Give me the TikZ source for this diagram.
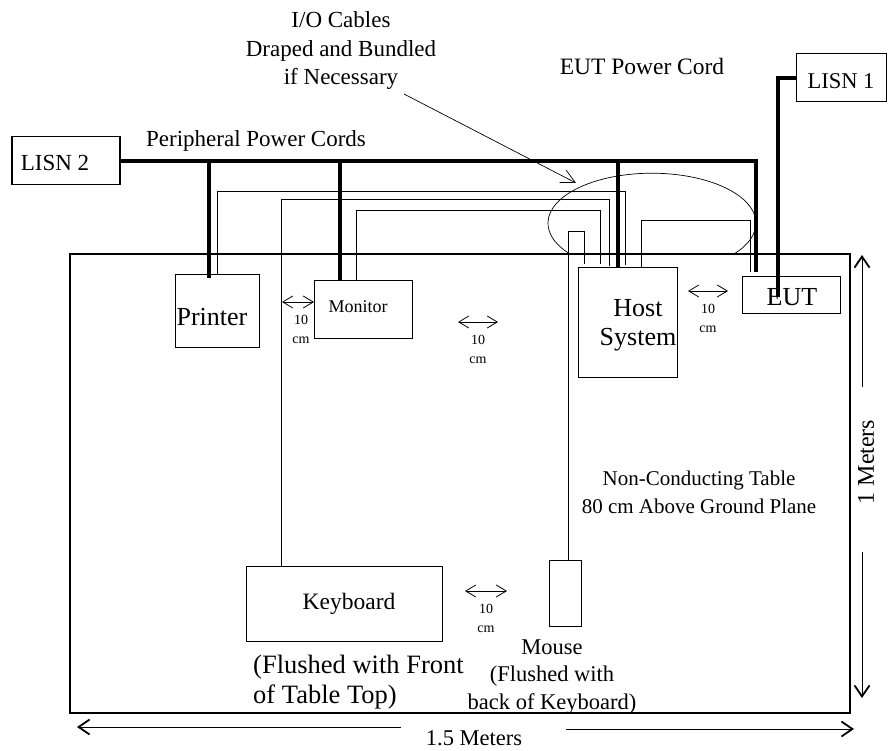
\documentclass[tikz,border=0pt]{standalone}
\usepackage{fontspec}
\setmainfont{Liberation Serif}
\usetikzlibrary{arrows.meta}
\tikzset{
  box/.style={draw,line width=0.8pt,inner sep=0pt,anchor=north west},
  cable/.style={line width=0.8pt},
  cord/.style={line width=3.2pt},
  dim/.style={line width=0.8pt,{Straight Barb[length=10pt,width=12pt]}-{Straight Barb[length=10pt,width=12pt]}},
  meter/.style={line width=1pt,-{Straight Barb[length=11pt,width=15pt,line width=1.8pt]}},
  lbl/.style={inner sep=0pt,align=center},
  small/.style={font=\fontsize{14}{19}\selectfont,inner sep=0pt,align=center},
}
\begin{document}
\begin{tikzpicture}[x=1pt,y=-1pt]
\useasboundingbox (0,0) rectangle (894,751);

% Table
\draw[line width=1.8pt] (70,254) rectangle (850,713);

% Boxes
\node[box,line width=1.5pt,minimum width=108pt,minimum height=48pt] (lisntwo) at (11,136) {};
\node[box,line width=1.2pt,minimum width=90pt,minimum height=48pt] (lisnone) at (796,53) {};
\node[box,minimum width=84pt,minimum height=73pt] (printer) at (175,274) {};
\node[box,minimum width=98pt,minimum height=58pt] (monitor) at (314,280) {};
\node[box,minimum width=99pt,minimum height=110pt] (host) at (578,267) {};
\node[box,minimum width=98pt,minimum height=37pt] (eut) at (742,276) {};
\node[box,minimum width=196pt,minimum height=75pt] (keyboard) at (246,566) {};
\node[box,minimum width=32pt,minimum height=66pt] (mouse) at (549,560) {};

% Bundle
\draw[line width=0.7pt] (570,254) arc[start angle=142,end angle=398,x radius=104,y radius=50];
\coordinate (iotail) at (404,94);
\coordinate (iotip) at (576,183);
\draw[line width=0.7pt,-{Straight Barb[length=14pt,width=14pt]}] (iotail) -- (iotip);

% Signal cables
\draw[cable] (217,274) -- (217,191) -- (625,191) -- (625,265);
\draw[cable] (281,566) -- (281,199) -- (609,199) -- (609,266);
\draw[cable] (356,280) -- (356,210) -- (600,210) -- (600,264);
\draw[cable] (568,560) -- (568,231) -- (584,231) -- (584,264);
\draw[cable] (641,267) -- (641,220) -- (750,220) -- (750,272);

% Power cords
\draw[cord] (119,161) -- (756,161) -- (756,272);
\draw[cord] (209,161) -- (209,278);
\draw[cord] (340,161) -- (340,281);
\draw[cord] (618,161) -- (618,268);
\draw[cord] (796,78) -- (778,78) -- (778,297);

% Labels in boxes
\node[lbl,font=\fontsize{23}{23}\selectfont] at (55,163) {LISN 2};
\node[lbl,font=\fontsize{22.5}{22.5}\selectfont] at (841,81) {LISN 1};
\node[lbl,font=\fontsize{26}{26}\selectfont] at (212,317) {Printer};
\node[lbl,font=\fontsize{18}{18}\selectfont] at (358,307) {Monitor};
\node[lbl,font=\fontsize{26}{29}\selectfont] at (638,325) {Host\\System};
\node[lbl,font=\fontsize{26}{26}\selectfont] at (792,297) {EUT};
\node[lbl,font=\fontsize{23.5}{23.5}\selectfont] at (349,604) {Keyboard};

% Other labels
\node[lbl,font=\fontsize{23}{28.5}\selectfont] at (341,51) {I/O Cables\\Draped and Bundled\\if Necessary};
\node[lbl,font=\fontsize{23.5}{23.5}\selectfont] at (642,66) {EUT Power Cord};
\node[lbl,font=\fontsize{23}{23}\selectfont] at (256,141) {Peripheral Power Cords};
\node[lbl,font=\fontsize{21}{28}\selectfont] at (699,492) {Non-Conducting Table\\80 cm Above Ground Plane};
\node[lbl,font=\fontsize{26.5}{30}\selectfont,align=left,anchor=north west] at (253,655) {(Flushed with Front\\of Table Top)};
\node[lbl,font=\fontsize{22.5}{27.5}\selectfont] at (552,677) {Mouse\\(Flushed with\\back of Keyboard)};

% 10 cm marks
\foreach \xa/\xb/\ya/\xt in {282/314/302/301, 458/498/322/478, 688/728/291/708, 465/507/591/486}{
  \coordinate (dimleft) at (\xa,\ya);
  \coordinate (dimright) at (\xb,\ya);
  \draw[dim] (dimleft) -- (dimright);
  \node[small] at (\xt,{\ya+27}) {10\\cm};
}

% Table size
\coordinate (upa) at (862,387);
\coordinate (upb) at (862,255);
\coordinate (downa) at (862,552);
\coordinate (downb) at (862,698);
\coordinate (lefta) at (401,727);
\coordinate (leftb) at (77,727);
\coordinate (righta) at (566,729);
\coordinate (rightb) at (854,729);
\draw[meter] (upa) -- (upb);
\draw[meter] (downa) -- (downb);
\draw[meter] (lefta) -- (leftb);
\draw[meter] (righta) -- (rightb);
\node[lbl,font=\fontsize{24}{24}\selectfont,rotate=90] at (866,462) {1 Meters};
\node[lbl,font=\fontsize{22.5}{22.5}\selectfont] at (474,738) {1.5 Meters};

\end{tikzpicture}
\end{document}
